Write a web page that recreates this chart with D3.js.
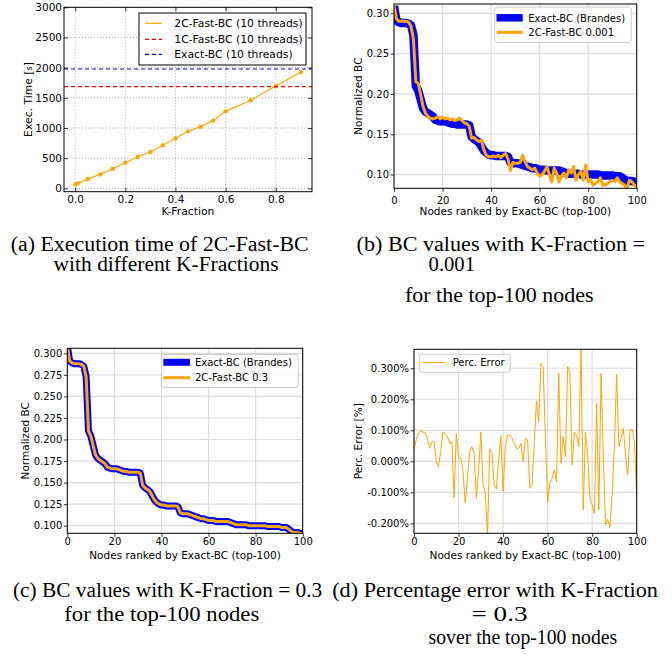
<!DOCTYPE html>
<html>
<head>
<meta charset="utf-8">
<script src="https://cdn.jsdelivr.net/npm/d3@7"></script>
<style>
  body { margin: 0; background: #fff; }
  svg { display: block; }
</style>
</head>
<body>
<div id="chart"></div>
<script>
// ---- data ----

// (a) execution time vs K-fraction
var kFraction = [0.001, 0.01, 0.05, 0.10, 0.15, 0.20, 0.25, 0.30, 0.35, 0.40, 0.45, 0.50, 0.55, 0.60, 0.70, 0.80, 0.90];
var execTime2C = [66, 83, 155, 232, 326, 425, 525, 602, 713, 829, 945, 1022, 1122, 1276, 1459, 1696, 1928];
var execTime1C = 1685;
var execTimeExact = 1978;
var kTicks = [0.0, 0.2, 0.4, 0.6, 0.8];
var timeTicks = [0, 500, 1000, 1500, 2000, 2500, 3000];

// (b), (c), (d) top-100 nodes
var nodeRank = d3.range(0, 101);
var exactBC = [
  0.309, 0.291, 0.289, 0.288, 0.288, 0.288, 0.287, 0.285, 0.273, 0.210,
  0.204, 0.193, 0.182, 0.178, 0.176, 0.174, 0.172, 0.168, 0.167, 0.166,
  0.166, 0.166, 0.165, 0.164, 0.163, 0.163, 0.162, 0.162, 0.162, 0.162,
  0.162, 0.161, 0.147, 0.144, 0.142, 0.140, 0.135, 0.130, 0.127, 0.125,
  0.124, 0.124, 0.123, 0.123, 0.123, 0.123, 0.123, 0.122, 0.115, 0.114,
  0.114, 0.114, 0.113, 0.112, 0.111, 0.110, 0.109, 0.108, 0.108, 0.107,
  0.106, 0.106, 0.106, 0.105, 0.105, 0.105, 0.105, 0.105, 0.105, 0.104,
  0.103, 0.102, 0.101, 0.101, 0.101, 0.101, 0.101, 0.100, 0.100, 0.100,
  0.100, 0.100, 0.100, 0.100, 0.100, 0.099, 0.099, 0.099, 0.099, 0.099,
  0.099, 0.098, 0.098, 0.098, 0.096, 0.094, 0.092, 0.092, 0.092, 0.091,
  0.091
];
var fastBC001 = [
  0.310, 0.293, 0.290, 0.290, 0.290, 0.290, 0.289, 0.284, 0.268, 0.215,
  0.213, 0.199, 0.184, 0.176, 0.172, 0.170, 0.169, 0.170, 0.172, 0.169,
  0.171, 0.169, 0.170, 0.168, 0.169, 0.167, 0.168, 0.170, 0.167, 0.164,
  0.163, 0.160, 0.145, 0.146, 0.143, 0.141, 0.143, 0.131, 0.124, 0.122,
  0.122, 0.123, 0.122, 0.124, 0.121, 0.124, 0.126, 0.119, 0.105, 0.115,
  0.114, 0.114, 0.115, 0.124, 0.116, 0.110, 0.108, 0.106, 0.108, 0.102,
  0.098, 0.100, 0.104, 0.110, 0.100, 0.091, 0.108, 0.102, 0.091, 0.098,
  0.102, 0.096, 0.106, 0.102, 0.110, 0.093, 0.100, 0.104, 0.093, 0.112,
  0.091, 0.094, 0.087, 0.089, 0.091, 0.096, 0.087, 0.087, 0.089, 0.091,
  0.093, 0.091, 0.096, 0.091, 0.089, 0.087, 0.083, 0.093, 0.091, 0.087,
  0.085
];
var fastBC03 = [
  0.309, 0.291, 0.289, 0.288, 0.288, 0.288, 0.287, 0.285, 0.273, 0.210,
  0.204, 0.193, 0.182, 0.178, 0.176, 0.174, 0.172, 0.168, 0.167, 0.166,
  0.166, 0.166, 0.165, 0.164, 0.163, 0.163, 0.162, 0.162, 0.162, 0.162,
  0.162, 0.161, 0.147, 0.144, 0.142, 0.140, 0.135, 0.130, 0.127, 0.125,
  0.124, 0.124, 0.123, 0.123, 0.123, 0.123, 0.123, 0.122, 0.115, 0.114,
  0.114, 0.114, 0.113, 0.112, 0.111, 0.110, 0.109, 0.108, 0.108, 0.107,
  0.106, 0.106, 0.106, 0.105, 0.105, 0.105, 0.105, 0.105, 0.105, 0.104,
  0.103, 0.102, 0.101, 0.101, 0.101, 0.101, 0.101, 0.100, 0.100, 0.100,
  0.100, 0.100, 0.100, 0.100, 0.100, 0.099, 0.099, 0.099, 0.099, 0.099,
  0.099, 0.098, 0.098, 0.098, 0.096, 0.094, 0.092, 0.092, 0.092, 0.091,
  0.091
];
var percError = [
  0.037, 0.069, 0.090, 0.098, 0.094, 0.093, 0.074, 0.042, 0.063, 0.063,
  -0.001, -0.017, 0.031, 0.094, 0.087, 0.080, 0.058, 0.063, -0.117, 0.090,
  0.012, 0.010, -0.033, -0.135, -0.055, 0.031, 0.047, 0.026, -0.119, -0.033,
  0.094, -0.076, -0.103, -0.240, 0.040, 0.026, -0.076, -0.089, 0.004, 0.083,
  -0.098, 0.049, 0.085, 0.085, 0.074, 0.058, 0.042, 0.042, 0.058, 0.000,
  0.074, 0.069, -0.087, -0.076, 0.060, 0.195, 0.128, 0.316, 0.305, 0.080,
  -0.133, -0.071, -0.055, -0.028, -0.066, 0.284, -0.006, 0.080, 0.015, 0.305,
  0.284, -0.012, 0.094, 0.085, 0.047, 0.370, -0.157, 0.094, 0.020, -0.119,
  -0.141, -0.168, 0.187, -0.157, 0.284, 0.020, -0.205, -0.187, -0.213, -0.100,
  0.050, 0.281, 0.047, 0.074, 0.106, 0.020, -0.044, 0.101, 0.101, 0.063,
  -0.110
];
var rankTicks = [0, 20, 40, 60, 80, 100];
var bcTicksB = [0.10, 0.15, 0.20, 0.25, 0.30];
var bcTicksC = [0.100, 0.125, 0.150, 0.175, 0.200, 0.225, 0.250, 0.275, 0.300];
var errTicks = [-0.2, -0.1, 0.0, 0.1, 0.2, 0.3];

// ---- drawing ----
var SANS = "DejaVu Sans, sans-serif";
var SERIF = "Liberation Serif, 'Times New Roman', serif";
var ORANGE = "#ffa500", BLUE = "#0000ff", RED = "#ff0000";

var svg = d3.select("#chart").append("svg")
    .attr("width", 672)
    .attr("height", 655);
svg.append("rect").attr("width", 672).attr("height", 655).attr("fill", "#fff");

var clipCount = 0;
var makeClip = function(box) {
  var id = "clip" + (clipCount++);
  svg.append("clipPath").attr("id", id).append("rect")
      .attr("x", box.l).attr("y", box.t)
      .attr("width", box.r - box.l).attr("height", box.b - box.t);
  return "url(#" + id + ")";
};

var styleTicks = function(sel, size) {
  sel.select(".domain").remove();
  sel.selectAll(".tick line").attr("stroke", "#000").attr("stroke-width", 0.8);
  sel.selectAll(".tick text").attr("fill", "#000")
      .attr("font-family", SANS).attr("font-size", size);
};

var fmt = function(digits, suffix) {
  return function(d) { return d.toFixed(digits) + (suffix || ""); };
};

// ===== panel (a): classic matplotlib look =====
var boxA = {l: 64, r: 312, t: 7.3, b: 191.7};
var xA = d3.scaleLinear().domain([-0.0445, 0.9445]).range([boxA.l, boxA.r]);
var yA = d3.scaleLinear().domain([-55, 3000]).range([boxA.b, boxA.t]);
var gA = svg.append("g");

gA.append("g").selectAll("line").data(kTicks).join("line")
    .attr("x1", function(d){return xA(d);}).attr("x2", function(d){return xA(d);})
    .attr("y1", boxA.t).attr("y2", boxA.b)
    .attr("stroke", "#000").attr("stroke-opacity", 0.55).attr("stroke-width", 0.6)
    .attr("stroke-dasharray", "1,2");
gA.append("g").selectAll("line").data(timeTicks).join("line")
    .attr("x1", boxA.l).attr("x2", boxA.r)
    .attr("y1", function(d){return yA(d);}).attr("y2", function(d){return yA(d);})
    .attr("stroke", "#000").attr("stroke-opacity", 0.55).attr("stroke-width", 0.6)
    .attr("stroke-dasharray", "1,2");

var plotA = gA.append("g").attr("clip-path", makeClip(boxA));
plotA.append("path")
    .datum(execTime2C)
    .attr("fill", "none").attr("stroke", ORANGE).attr("stroke-width", 1.2)
    .attr("d", d3.line().x(function(d, i){return xA(kFraction[i]);}).y(function(d){return yA(d);}));
plotA.selectAll("circle").data(execTime2C).join("circle")
    .attr("cx", function(d, i){return xA(kFraction[i]);})
    .attr("cy", function(d){return yA(d);})
    .attr("r", 2.2).attr("fill", ORANGE);
plotA.append("line")
    .attr("x1", boxA.l).attr("x2", boxA.r)
    .attr("y1", yA(execTime1C)).attr("y2", yA(execTime1C))
    .attr("stroke", RED).attr("stroke-width", 1.2).attr("stroke-dasharray", "4,3");
plotA.append("line")
    .attr("x1", boxA.l).attr("x2", boxA.r)
    .attr("y1", yA(execTimeExact)).attr("y2", yA(execTimeExact))
    .attr("stroke", BLUE).attr("stroke-width", 1.2).attr("stroke-dasharray", "4,3");

// inward ticks on all four sides
gA.append("g").attr("transform", "translate(0," + boxA.b + ")")
    .call(d3.axisBottom(xA).tickValues(kTicks).tickFormat(fmt(1)).tickSize(-4).tickSizeOuter(0).tickPadding(4))
    .call(styleTicks, 10.5);
gA.append("g").attr("transform", "translate(0," + boxA.t + ")")
    .call(d3.axisTop(xA).tickValues(kTicks).tickFormat("").tickSize(-4).tickSizeOuter(0))
    .call(styleTicks, 10.5);
gA.append("g").attr("transform", "translate(" + boxA.l + ",0)")
    .call(d3.axisLeft(yA).tickValues(timeTicks).tickFormat(fmt(0)).tickSize(-4).tickSizeOuter(0).tickPadding(2))
    .call(styleTicks, 10.5);
gA.append("g").attr("transform", "translate(" + boxA.r + ",0)")
    .call(d3.axisRight(yA).tickValues(timeTicks).tickFormat("").tickSize(-4).tickSizeOuter(0))
    .call(styleTicks, 10.5);
gA.append("rect")
    .attr("x", boxA.l).attr("y", boxA.t)
    .attr("width", boxA.r - boxA.l).attr("height", boxA.b - boxA.t)
    .attr("fill", "none").attr("stroke", "#000").attr("stroke-width", 1);

gA.append("text")
    .attr("x", (boxA.l + boxA.r) / 2).attr("y", 214.5)
    .attr("text-anchor", "middle").attr("font-family", SANS).attr("font-size", 10.8)
    .text("K-Fraction");
var labA = gA.append("text")
    .attr("transform", "translate(32," + ((boxA.t + boxA.b) / 2) + ") rotate(-90)")
    .attr("text-anchor", "middle").attr("font-family", SANS).attr("font-size", 10.8);
labA.append("tspan").text("Exec. Time [");
labA.append("tspan").attr("font-style", "italic").attr("font-size", 8).text("s");
labA.append("tspan").text("]");

// legend (a)
var legA = gA.append("g");
legA.append("rect").attr("x", 139).attr("y", 13).attr("width", 167).attr("height", 52)
    .attr("fill", "#fff").attr("stroke", "#000").attr("stroke-width", 1);
var legAItems = [
  {label: "2C-Fast-BC (10 threads)", color: ORANGE, dash: null, y: 23.3},
  {label: "1C-Fast-BC (10 threads)", color: RED, dash: "4,3", y: 39.3},
  {label: "Exact-BC (10 threads)", color: BLUE, dash: "4,3", y: 54.3}
];
legAItems.forEach(function(it) {
  legA.append("line").attr("x1", 145).attr("x2", 162).attr("y1", it.y).attr("y2", it.y)
      .attr("stroke", it.color).attr("stroke-width", 1.2)
      .attr("stroke-dasharray", it.dash);
  legA.append("text").attr("x", 174.3).attr("y", it.y + 3.9)
      .attr("font-family", SANS).attr("font-size", 10.8).text(it.label);
});

// ===== panels (b), (c), (d): newer matplotlib look =====
var makePanel = function(box, yDomain, xTicks, yTicks) {
  var p = {box: box, g: svg.append("g")};
  p.x = d3.scaleLinear().domain([0, 100]).range([box.l, box.r]);
  p.y = d3.scaleLinear().domain(yDomain).range([box.b, box.t]);
  p.xTicks = xTicks; p.yTicks = yTicks;
  p.g.append("g").selectAll("line").data(xTicks).join("line")
      .attr("x1", function(d){return p.x(d);}).attr("x2", function(d){return p.x(d);})
      .attr("y1", box.t).attr("y2", box.b)
      .attr("stroke", "#dcdcdc").attr("stroke-width", 1.2);
  p.g.append("g").selectAll("line").data(yTicks).join("line")
      .attr("x1", box.l).attr("x2", box.r)
      .attr("y1", function(d){return p.y(d);}).attr("y2", function(d){return p.y(d);})
      .attr("stroke", "#dcdcdc").attr("stroke-width", 1.2);
  p.plot = p.g.append("g").attr("clip-path", makeClip(box));
  p.line = d3.line().x(function(d, i){return p.x(nodeRank[i]);}).y(function(d){return p.y(d);});
  return p;
};

var finishPanel = function(p, yFmt, xPad, yLabel, yLabelX, xLabelY) {
  var box = p.box;
  p.g.append("rect")
      .attr("x", box.l).attr("y", box.t)
      .attr("width", box.r - box.l).attr("height", box.b - box.t)
      .attr("fill", "none").attr("stroke", "#000").attr("stroke-width", 1);
  p.g.append("g").attr("transform", "translate(0," + box.b + ")")
      .call(d3.axisBottom(p.x).tickValues(p.xTicks).tickFormat(fmt(0)).tickSize(3.5).tickSizeOuter(0).tickPadding(xPad))
      .call(styleTicks, 10);
  p.g.append("g").attr("transform", "translate(" + box.l + ",0)")
      .call(d3.axisLeft(p.y).tickValues(p.yTicks).tickFormat(yFmt).tickSize(3.5).tickSizeOuter(0).tickPadding(1.5))
      .call(styleTicks, 10);
  p.g.append("text")
      .attr("x", (box.l + box.r) / 2).attr("y", xLabelY)
      .attr("text-anchor", "middle").attr("font-family", SANS).attr("font-size", 10.5)
      .text("Nodes ranked by Exact-BC (top-100)");
  p.g.append("text")
      .attr("transform", "translate(" + yLabelX + "," + ((box.t + box.b) / 2) + ") rotate(-90)")
      .attr("text-anchor", "middle").attr("font-family", SANS).attr("font-size", 10.5)
      .text(yLabel);
};

var addLegend = function(p, box, items, sampleX, textX) {
  var leg = p.g.append("g");
  leg.append("rect").attr("x", box.x).attr("y", box.y)
      .attr("width", box.w).attr("height", box.h).attr("rx", 2.5)
      .attr("fill", "#fff").attr("fill-opacity", 0.8)
      .attr("stroke", "#cccccc").attr("stroke-width", 1);
  items.forEach(function(it) {
    leg.append("line").attr("x1", sampleX[0]).attr("x2", sampleX[1])
        .attr("y1", it.y).attr("y2", it.y)
        .attr("stroke", it.color).attr("stroke-width", it.width);
    leg.append("text").attr("x", textX).attr("y", it.y + 3.7)
        .attr("font-family", SANS).attr("font-size", 10).text(it.label);
  });
};

// (b)
var pB = makePanel({l: 394, r: 636.7, t: 4, b: 188.3}, [0.083, 0.3115], rankTicks, bcTicksB);
pB.plot.append("path").datum(exactBC)
    .attr("fill", "none").attr("stroke", BLUE).attr("stroke-width", 8.5)
    .attr("stroke-linejoin", "round").attr("d", pB.line);
pB.plot.append("path").datum(fastBC001)
    .attr("fill", "none").attr("stroke", ORANGE).attr("stroke-width", 3)
    .attr("stroke-linejoin", "round").attr("d", pB.line);
finishPanel(pB, fmt(2), 5, "Normalized BC", 362, 214.5);
addLegend(pB, {x: 494.7, y: 7, w: 136.6, h: 35.5}, [
  {label: "Exact-BC (Brandes)", color: BLUE, width: 7.5, y: 17.8},
  {label: "2C-Fast-BC 0.001", color: ORANGE, width: 3, y: 32.3}
], [496.5, 522.7], 528.3);

// (c)
var pC = makePanel({l: 67.3, r: 302.7, t: 348.3, b: 533.3}, [0.0912, 0.3058], rankTicks, bcTicksC);
pC.plot.append("path").datum(exactBC)
    .attr("fill", "none").attr("stroke", BLUE).attr("stroke-width", 7)
    .attr("stroke-linejoin", "round").attr("d", pC.line);
pC.plot.append("path").datum(fastBC03)
    .attr("fill", "none").attr("stroke", ORANGE).attr("stroke-width", 3)
    .attr("stroke-linejoin", "round").attr("d", pC.line);
finishPanel(pC, fmt(3), 1.5, "Normalized BC", 28.5, 558.8);
addLegend(pC, {x: 161.5, y: 354.5, w: 136.7, h: 33}, [
  {label: "Exact-BC (Brandes)", color: BLUE, width: 7, y: 362.3},
  {label: "2C-Fast-BC 0.3", color: ORANGE, width: 3, y: 377.7}
], [163.3, 190], 195);

// (d)
var pD = makePanel({l: 414, r: 636.7, t: 349.3, b: 533.3}, [-0.232, 0.361], rankTicks, errTicks);
pD.plot.append("path").datum(percError)
    .attr("fill", "none").attr("stroke", ORANGE).attr("stroke-width", 1)
    .attr("stroke-linejoin", "round").attr("d", pD.line);
finishPanel(pD, fmt(3, "%"), 1.5, "Perc. Error [%]", 362, 558.8);
addLegend(pD, {x: 419.5, y: 354.3, w: 90.8, h: 18}, [
  {label: "Perc. Error", color: ORANGE, width: 1, y: 362.5}
], [422.5, 444.7], 452.7);

// ===== sub-captions =====
var captions = [
  {text: "(a) Execution time of 2C-Fast-BC", x: 10.7, y: 250.5, w: 298},
  {text: "with different K-Fractions", x: 53.6, y: 271, w: 225},
  {text: "(b) BC values with K-Fraction =", x: 356.6, y: 250.5, w: 288.4},
  {text: "0.001", x: 428.6, y: 271, w: 46.4},
  {text: "for the top-100 nodes", x: 405, y: 302, w: 188.6},
  {text: "(c) BC values with K-Fraction = 0.3", x: 12.9, y: 597, w: 309.4},
  {text: "for the top-100 nodes", x: 64.3, y: 620.5, w: 195},
  {text: "(d) Percentage error with K-Fraction", x: 332.2, y: 597, w: 325.8},
  {text: "= 0.3", x: 471.5, y: 620.5, w: 56},
  {text: "sover the top-100 nodes", x: 428.6, y: 644, w: 188.6}
];
svg.append("g").selectAll("text").data(captions).join("text")
    .attr("x", function(d){return d.x;})
    .attr("y", function(d){return d.y;})
    .attr("textLength", function(d){return d.w;})
    .attr("lengthAdjust", "spacingAndGlyphs")
    .attr("font-family", SERIF).attr("font-size", 20).attr("fill", "#000")
    .text(function(d){return d.text;});
</script>
</body>
</html>
